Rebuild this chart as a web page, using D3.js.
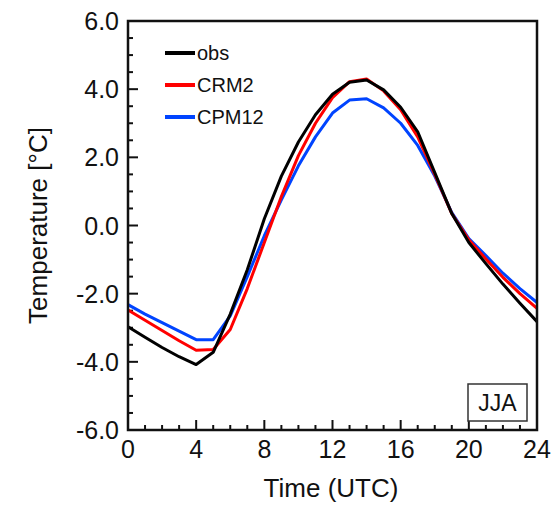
<!DOCTYPE html>
<html>
<head>
<meta charset="utf-8">
<script src="https://cdnjs.cloudflare.com/ajax/libs/d3/7.8.5/d3.min.js"></script>
<style>
body{margin:0;background:#fff;}
text{font-family:"Liberation Sans",Arial,Helvetica,sans-serif;fill:#111;}
</style>
</head>
<body>
<script>
// hourly diurnal cycle, JJA
const hours=d3.range(0,25);
const obs=[-2.97,-3.28,-3.58,-3.85,-4.08,-3.72,-2.6,-1.3,0.2,1.45,2.45,3.25,3.85,4.2,4.27,3.98,3.47,2.75,1.55,0.35,-0.5,-1.12,-1.72,-2.28,-2.82];
const crm2=[-2.48,-2.78,-3.08,-3.38,-3.66,-3.64,-3.05,-1.85,-0.5,0.85,2.05,3.0,3.75,4.22,4.3,3.95,3.4,2.6,1.5,0.35,-0.42,-0.98,-1.52,-2.0,-2.43];
const cpm12=[-2.32,-2.6,-2.85,-3.1,-3.35,-3.35,-2.65,-1.5,-0.3,0.75,1.75,2.6,3.3,3.68,3.72,3.45,3.0,2.35,1.45,0.38,-0.38,-0.88,-1.4,-1.85,-2.26];

const seriesNames=["obs","CRM2","CPM12"];
const seriesColors=["#000000","#ff0000","#0044ff"];

const xTicks=[0,4,8,12,16,20,24];
const yTicks=[-6,-4,-2,0,2,4,6];
const yTickLabels=["-6.0","-4.0","-2.0","0.0","2.0","4.0","6.0"];

const W=558,H=506;
const pLeft=128,pRight=537,pTop=21,pBottom=430;

const svg=d3.select('body').append('svg')
.attr('width',W).attr('height',H);

const x=d3.scaleLinear().domain([0,24]).range([pLeft,pRight]);
const y=d3.scaleLinear().domain([-6,6]).range([pBottom,pTop]);

// minor ticks + major ticks (inward)
svg.append('g').selectAll('line').data(d3.range(0,25)).enter().append('line')
.attr('x1',d=>x(d)).attr('x2',d=>x(d))
.attr('y1',pBottom).attr('y2',d=>d%4==0?pBottom-10:pBottom-5)
.attr('stroke','#111').attr('stroke-width',2);

svg.append('g').selectAll('line').data(d3.range(-6,6.01,0.5)).enter().append('line')
.attr('y1',d=>y(d)).attr('y2',d=>y(d))
.attr('x1',pLeft).attr('x2',d=>d%2==0?pLeft+10:pLeft+5)
.attr('stroke','#111').attr('stroke-width',2);

// tick labels
svg.append('g').selectAll('text').data(xTicks).enter().append('text')
.attr('x',d=>x(d)).attr('y',458)
.attr('text-anchor','middle').style('font-size','25px')
.text(d=>d);

svg.append('g').selectAll('text').data(yTicks).enter().append('text')
.attr('x',pLeft-9).attr('y',d=>y(d)+9)
.attr('text-anchor','end').style('font-size','25px')
.text((d,i)=>yTickLabels[i]);

// axis titles
svg.append('text').attr('x',331).attr('y',497)
.attr('text-anchor','middle').style('font-size','26px')
.text('Time (UTC)');

svg.append('text')
.attr('transform','translate(47,'+((pTop+pBottom)/2)+') rotate(-90)')
.attr('text-anchor','middle').style('font-size','26px')
.text('Temperature [°C]');

// lines
const line=d3.line().x((d,i)=>x(hours[i])).y(d=>y(d));
const allSeries=[obs,crm2,cpm12];

// draw blue first, black on top
[2,1,0].forEach(k=>{
  svg.append('path').datum(allSeries[k])
  .attr('d',line)
  .attr('fill','none')
  .attr('stroke',seriesColors[k])
  .attr('stroke-width',3)
  .attr('stroke-linejoin','round');
});

// frame
svg.append('rect').attr('x',pLeft).attr('y',pTop)
.attr('width',pRight-pLeft).attr('height',pBottom-pTop)
.attr('fill','none').attr('stroke','#111').attr('stroke-width',2.5);

// legend
const legend=svg.append('g');
legend.selectAll('line').data(seriesNames).enter().append('line')
.attr('x1',165).attr('x2',195)
.attr('y1',(d,i)=>53+i*32).attr('y2',(d,i)=>53+i*32)
.attr('stroke',(d,i)=>seriesColors[i]).attr('stroke-width',4);

legend.selectAll('text').data(seriesNames).enter().append('text')
.attr('x',197).attr('y',(d,i)=>53+i*32+7)
.style('font-size','20px')
.text(d=>d);

// season box
svg.append('rect').attr('x',468).attr('y',384)
.attr('width',59).attr('height',37)
.attr('fill','#fff').attr('stroke','#333').attr('stroke-width',1.5);
svg.append('text').attr('x',497.5).attr('y',411)
.attr('text-anchor','middle').style('font-size','23px')
.text('JJA');
</script>
</body>
</html>
